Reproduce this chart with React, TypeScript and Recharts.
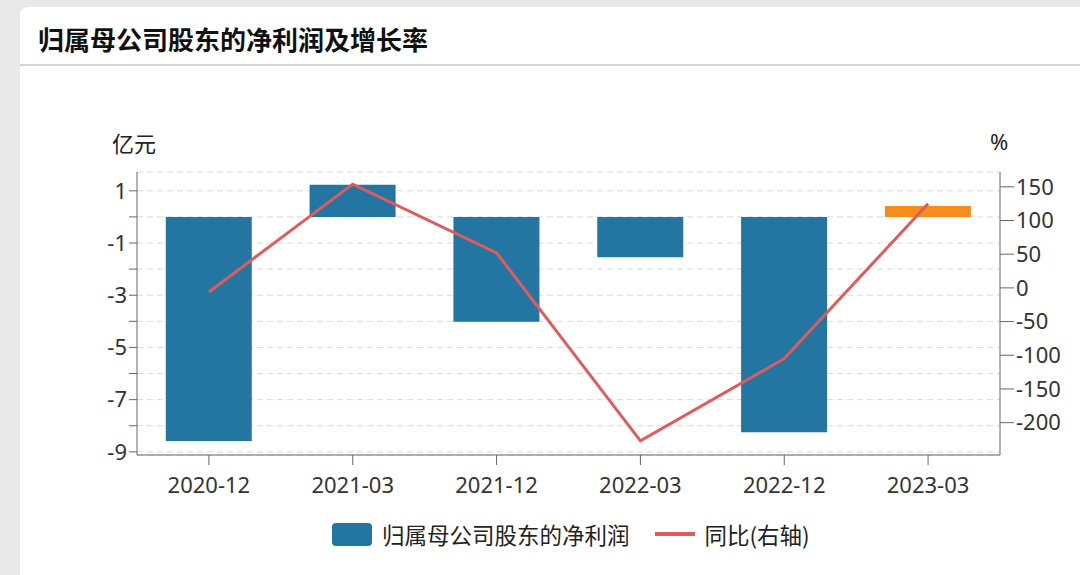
import { ComposedChart, Bar, Line, XAxis, YAxis, CartesianGrid, Cell } from 'recharts';

const periods = ['2020-12', '2021-03', '2021-12', '2022-03', '2022-12', '2023-03'];
const netProfit = [-8.58, 1.23, -4.02, -1.55, -8.25, 0.42];
const yoyGrowth = [-6, 154, 52, -227, -105, 125];
const barColors = ['#2376a1', '#2376a1', '#2376a1', '#2376a1', '#2376a1', '#f68c1a'];
const leftTicks = [1, 0, -1, -2, -3, -4, -5, -6, -7, -8, -9];
const rightTicks = [150, 100, 50, 0, -50, -100, -150, -200];

const chartData = periods.map((p, i) => ({ period: p, profit: netProfit[i], yoy: yoyGrowth[i] }));

const font = '"Noto Sans", "Noto Sans CJK SC", sans-serif';
const axisColor = '#666';

export default function App() {
  return (
    <div style={{ position: 'absolute', left: 0, top: 0, width: 1080, height: 575, background: '#e9e9e9', overflow: 'hidden', fontFamily: font }}>
      <div style={{ position: 'absolute', left: 20, top: 7, width: 1080, height: 600, background: '#fff', borderRadius: 8 }}>
        <div style={{ position: 'absolute', left: 18, top: 13, fontSize: 26, fontWeight: 700, color: '#111', fontFamily: '"Noto Sans CJK SC", sans-serif' }}>
          归属母公司股东的净利润及增长率
        </div>
        <div style={{ position: 'absolute', left: 0, top: 57, width: 1080, height: 1.5, background: '#d2d2d2' }} />
      </div>
      <div style={{ position: 'absolute', left: 112, top: 126, fontSize: 22, color: '#222', fontFamily: '"Noto Sans CJK SC", sans-serif' }}>亿元</div>
      <div style={{ position: 'absolute', left: 990, top: 126, fontSize: 22, color: '#222' }}>%</div>
      <div style={{ position: 'absolute', left: 0, top: 0 }}>
        <ComposedChart width={1080} height={575} data={chartData} margin={{ top: 172, left: 77, right: 20, bottom: 80 }} barCategoryGap="20%">
          <CartesianGrid yAxisId="left" vertical={false} stroke="#d9d9d9" strokeDasharray="6 4" />
          <XAxis
            dataKey="period"
            height={40}
            tickSize={10}
            stroke={axisColor}
            tick={{ fill: '#333', fontSize: 22, fontFamily: font }}
            tickMargin={12}
          />
          <YAxis
            yAxisId="left"
            width={60}
            domain={[-9.12, 1.72]}
            ticks={leftTicks}
            interval={0}
            allowDataOverflow
            tickSize={8}
            stroke={axisColor}
            tickFormatter={(v: number) => (Math.abs(v) % 2 === 1 ? String(v) : '')}
            tick={{ fill: '#333', fontSize: 22, fontFamily: font }}
          />
          <YAxis
            yAxisId="right"
            orientation="right"
            width={60}
            domain={[-248, 172]}
            ticks={rightTicks}
            interval={0}
            allowDataOverflow
            tickSize={14}
            tickMargin={2}
            stroke={axisColor}
            tick={{ fill: '#333', fontSize: 22, fontFamily: font, textAnchor: 'start' }}
          />
          <Bar yAxisId="left" dataKey="profit" isAnimationActive={false}>
            {chartData.map((d, i) => (
              <Cell key={d.period} fill={barColors[i]} />
            ))}
          </Bar>
          <Line yAxisId="right" dataKey="yoy" stroke="#e05c5c" strokeWidth={3} dot={false} activeDot={false} isAnimationActive={false} />
        </ComposedChart>
      </div>
      <div style={{ position: 'absolute', left: 332, top: 518, display: 'flex', alignItems: 'center', fontSize: 22.5, color: '#222', fontFamily: '"Noto Sans CJK SC", sans-serif' }}>
        <span style={{ display: 'inline-block', width: 40, height: 23, background: '#2376a1', borderRadius: 4, marginRight: 10 }} />
        <span>归属母公司股东的净利润</span>
        <span style={{ display: 'inline-block', width: 40, height: 4, background: '#e05c5c', marginLeft: 25, marginRight: 10 }} />
        <span>同比(右轴)</span>
      </div>
    </div>
  );
}
